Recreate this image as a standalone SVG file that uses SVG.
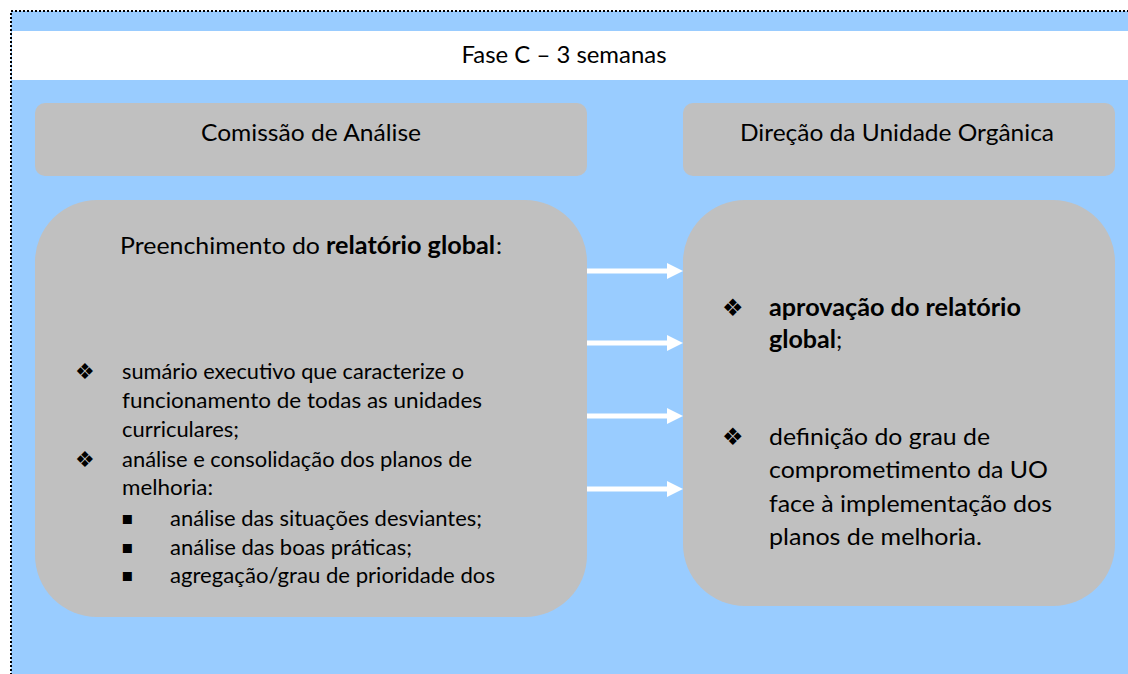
<svg xmlns="http://www.w3.org/2000/svg" width="1128" height="674" viewBox="0 0 1128 674">
<defs>
<style>
.t{font-family:"Lato","Liberation Sans",sans-serif;fill:#000}
.h{font-size:24px}
.l{font-size:21.5px}
.r{font-size:24px}
.b{font-weight:bold}
.bul{font-family:"DejaVu Sans",sans-serif;fill:#000}
.box{fill:#C0C0C0}
.arr{stroke:#FFFFFF;stroke-width:5;fill:none}
</style>
<marker id="ah" markerUnits="userSpaceOnUse" markerWidth="16" markerHeight="16" refX="0" refY="8" orient="auto">
<path d="M0,0 L16,8 L0,16 Z" fill="#FFFFFF"/>
</marker>
</defs>
<rect id="frame" x="11" y="11" width="1130" height="680" fill="#99CCFF" stroke="#000" stroke-width="2" stroke-dasharray="2 2"/>
<g id="title">
<rect x="12" y="31" width="1116" height="49" fill="#FFFFFF"/>
<text class="t h" x="564" y="63" text-anchor="middle" textLength="205" lengthAdjust="spacingAndGlyphs">Fase C – 3 semanas</text>
</g>
<g id="hdr-left">
<rect class="box" x="35" y="103" width="552" height="73" rx="10"/>
<text class="t h" x="311" y="141" text-anchor="middle" textLength="220" lengthAdjust="spacingAndGlyphs">Comissão de Análise</text>
</g>
<g id="hdr-right">
<rect class="box" x="683" y="103" width="432" height="73" rx="10"/>
<text class="t h" x="897" y="141" text-anchor="middle" textLength="314" lengthAdjust="spacingAndGlyphs">Direção da Unidade Orgânica</text>
</g>
<g id="box-left">
<rect class="box" x="35" y="200" width="552" height="417" rx="62"/>
<text class="t r" x="120" y="254" textLength="200" lengthAdjust="spacingAndGlyphs">Preenchimento do</text>
<text class="t r b" x="326" y="254" textLength="169" lengthAdjust="spacingAndGlyphs">relatório global</text>
<text class="t r" x="496" y="254">:</text>
<text class="bul" x="75" y="379" font-size="22">❖</text>
<text class="t l" x="122" y="379" textLength="342" lengthAdjust="spacingAndGlyphs">sumário executivo que caracterize o</text>
<text class="t l" x="122" y="408" textLength="360" lengthAdjust="spacingAndGlyphs">funcionamento de todas as unidades</text>
<text class="t l" x="122" y="437" textLength="117" lengthAdjust="spacingAndGlyphs">curriculares;</text>
<text class="bul" x="75" y="467" font-size="22">❖</text>
<text class="t l" x="122" y="467" textLength="350" lengthAdjust="spacingAndGlyphs">análise e consolidação dos planos de</text>
<text class="t l" x="122" y="495" textLength="91" lengthAdjust="spacingAndGlyphs">melhoria:</text>
<text class="bul" x="121" y="524" font-size="18">▪</text>
<text class="t l" x="170" y="526" textLength="312" lengthAdjust="spacingAndGlyphs">análise das situações desviantes;</text>
<text class="bul" x="121" y="553" font-size="18">▪</text>
<text class="t l" x="170" y="555" textLength="242" lengthAdjust="spacingAndGlyphs">análise das boas práticas;</text>
<text class="bul" x="121" y="581" font-size="18">▪</text>
<text class="t l" x="170" y="583" textLength="325" lengthAdjust="spacingAndGlyphs">agregação/grau de prioridade dos</text>
</g>
<g id="box-right">
<rect class="box" x="683" y="200" width="432" height="406" rx="62"/>
<text class="bul" x="722" y="316" font-size="24">❖</text>
<text class="t r b" x="769" y="316" textLength="252" lengthAdjust="spacingAndGlyphs">aprovação do relatório</text>
<text class="t r b" x="769" y="348" textLength="67" lengthAdjust="spacingAndGlyphs">global</text>
<text class="t r" x="836" y="348">;</text>
<text class="bul" x="722" y="445" font-size="24">❖</text>
<text class="t r" x="769" y="445" textLength="221" lengthAdjust="spacingAndGlyphs">definição do grau de</text>
<text class="t r" x="769" y="478" textLength="279" lengthAdjust="spacingAndGlyphs">comprometimento da UO</text>
<text class="t r" x="769" y="512" textLength="283" lengthAdjust="spacingAndGlyphs">face à implementação dos</text>
<text class="t r" x="769" y="545" textLength="213" lengthAdjust="spacingAndGlyphs">planos de melhoria.</text>
</g>
<g id="connectors">
<line class="arr" x1="587" y1="271" x2="667" y2="271" marker-end="url(#ah)"/>
<line class="arr" x1="587" y1="343" x2="667" y2="343" marker-end="url(#ah)"/>
<line class="arr" x1="587" y1="416" x2="667" y2="416" marker-end="url(#ah)"/>
<line class="arr" x1="587" y1="489" x2="667" y2="489" marker-end="url(#ah)"/>
</g>
</svg>
